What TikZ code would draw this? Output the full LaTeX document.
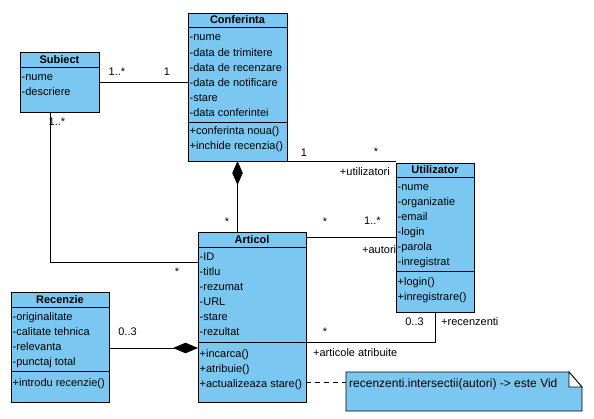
\documentclass[tikz,border=0pt]{standalone}
\usepackage{fontspec}
\setmainfont{Liberation Sans}
\usetikzlibrary{arrows.meta,calc}
\definecolor{umlblue}{RGB}{122,200,242}
\begin{document}
\begin{tikzpicture}[x=1pt,y=-1pt,
  cls/.style={draw, fill=umlblue, line width=0.8pt, anchor=north west, inner sep=0pt, outer sep=0pt},
  txt/.style={anchor=base west, inner sep=0pt, font=\fontsize{11}{13}\selectfont},
  hdr/.style={anchor=base, inner sep=0pt, font=\bfseries\fontsize{11}{13}\selectfont},
  lbl/.style={anchor=base, inner sep=0pt, font=\fontsize{11}{13}\selectfont},
  conn/.style={line width=0.8pt},
  sep/.style={line width=0.8pt},
  comp/.style={conn, -{Diamond[length=#1, width=10.5pt, fill=black]}}
]
\useasboundingbox (0,0) rectangle (594,419);

% ---------- Subiect ----------
\node[cls, minimum width=79pt, minimum height=60pt] (sub) at (20,52) {};
\draw[sep] (20,67) -- (99,67);
\node[hdr] (subh) at (59.5,63.5) {Subiect};
\foreach \t [count=\i from 0] in {{-nume},{-descriere}}
  \node[txt] (sub-a\i) at (21.5,81+15*\i) {\t};

% ---------- Conferinta ----------
\node[cls, minimum width=99pt, minimum height=148pt] (conf) at (188,13) {};
\draw[sep] (188,27) -- (287,27);
\draw[sep] (188,122) -- (287,122);
\node[hdr] (confh) at (237.5,24) {Conferinta};
\foreach \t [count=\i from 0] in {{-nume},{-data de trimitere},{-data de recenzare},{-data de notificare},{-stare},{-data conferintei}}
  \node[txt] (conf-a\i) at (189.5,41+15.2*\i) {\t};
\foreach \t [count=\i from 0] in {{+conferinta noua()},{+inchide recenzia()}}
  \node[txt] (conf-m\i) at (189.5,135+15*\i) {\t};

% ---------- Utilizator ----------
\node[cls, minimum width=78pt, minimum height=149pt] (util) at (396,163) {};
\draw[sep] (396,177) -- (474,177);
\draw[sep] (396,271) -- (474,271);
\node[hdr] (utilh) at (435,174) {Utilizator};
\foreach \t [count=\i from 0] in {{-nume},{-organizatie},{-email},{-login},{-parola},{-inregistrat}}
  \node[txt] (util-a\i) at (397.5,191+15*\i) {\t};
\foreach \t [count=\i from 0] in {{+login()},{+inregistrare()}}
  \node[txt] (util-m\i) at (397.5,286+14.5*\i) {\t};

% ---------- Articol ----------
\node[cls, minimum width=108pt, minimum height=170pt] (art) at (198,232) {};
\draw[sep] (198,247) -- (306,247);
\draw[sep] (198,342) -- (306,342);
\node[hdr] (arth) at (252,243.5) {Articol};
\foreach \t [count=\i from 0] in {{-ID},{-titlu},{-rezumat},{-URL},{-stare},{-rezultat}}
  \node[txt] (art-a\i) at (199.5,261+15*\i) {\t};
\foreach \t [count=\i from 0] in {{+incarca()},{+atribuie()},{+actualizeaza stare()}}
  \node[txt] (art-m\i) at (199.5,357+15*\i) {\t};

% ---------- Recenzie ----------
\node[cls, minimum width=98pt, minimum height=110pt] (rec) at (11,292) {};
\draw[sep] (11,307) -- (109,307);
\draw[sep] (11,371) -- (109,371);
\node[hdr] (rech) at (60,303.5) {Recenzie};
\foreach \t [count=\i from 0] in {{-originalitate},{-calitate tehnica},{-relevanta},{-punctaj total}}
  \node[txt] (rec-a\i) at (12.5,321+15*\i) {\t};
\node[txt] (rec-m0) at (12.5,386) {+introdu recenzie()};

% ---------- Note ----------
\node[inner sep=0pt, outer sep=0pt, minimum width=236pt, minimum height=39pt, anchor=north west] (note) at (346,372) {};
\draw[conn, fill=umlblue] (note.north west) -- ($(note.north east)+(-13,0)$) -- ($(note.north east)+(0,15)$)
   -- (note.south east) -- (note.south west) -- cycle;
\draw[conn, fill=white] ($(note.north east)+(-13,0)$) -- ($(note.north east)+(-13,15)$) -- ($(note.north east)+(0,15)$) -- cycle;
\node[anchor=base west, inner sep=0pt, font=\fontsize{12}{14}\selectfont] (notetext) at (349,387) {recenzenti.intersectii(autori) -> este Vid};

% ---------- Connectors ----------
% Subiect -- Conferinta
\draw[conn] (sub.east) -- (sub.east -| conf.west);
\node[lbl] (l1) at (117,76) {1..*};
\node[lbl] (l2) at (167,76) {1};

% Subiect -- Articol
\coordinate (sa) at (50,262);
\draw[conn] (sub.south -| sa) -- (sa) -- (sa -| art.west);
\node[lbl] (l3) at (57,126) {1..*};
\node[lbl] (l4) at (177,276) {*};

% Articol -> Conferinta (composition)
\draw[comp=24pt] (conf.south |- art.north) -- (conf.south);
\node[lbl] (l5) at (227,226) {*};

% Conferinta -- Utilizator
\draw[conn] (conf.south east) -- (conf.south east -| util.west);
\node[lbl] (l6) at (304,157) {1};
\node[lbl] (l7) at (376,156) {*};
\node[lbl, anchor=base east] (l8) at (390,176) {+utilizatori};

% Articol -- Utilizator (autori)
\coordinate (au) at (350,237);
\draw[conn] (au -| art.east) -- (au -| util.west);
\node[lbl] (l9) at (325,226) {*};
\node[lbl] (l10) at (372.5,225) {1..*};
\node[lbl, anchor=base west] (l11) at (362,254) {+autori};

% Articol -- Utilizator (recenzenti)
\coordinate (ar) at (435,342);
\draw[conn] (util.south -| ar) -- (ar) -- (ar -| art.east);
\node[lbl] (l12) at (414.5,326) {0..3};
\node[lbl, anchor=base west] (l13) at (441,326) {+recenzenti};
\node[lbl] (l14) at (325,336) {*};
\node[lbl, anchor=base west] (l15) at (313,356) {+articole atribuite};

% Recenzie -> Articol (composition)
\coordinate (ra) at (150,348);
\draw[comp=25pt] (ra -| rec.east) -- (ra -| art.west);
\node[lbl] (l16) at (127.5,336) {0..3};

% Articol -- Note (dashed)
\coordinate (dn) at (320,382);
\draw[conn, dash pattern=on 5pt off 4pt] (dn -| art.east) -- (dn -| note.west);
\end{tikzpicture}
\end{document}
